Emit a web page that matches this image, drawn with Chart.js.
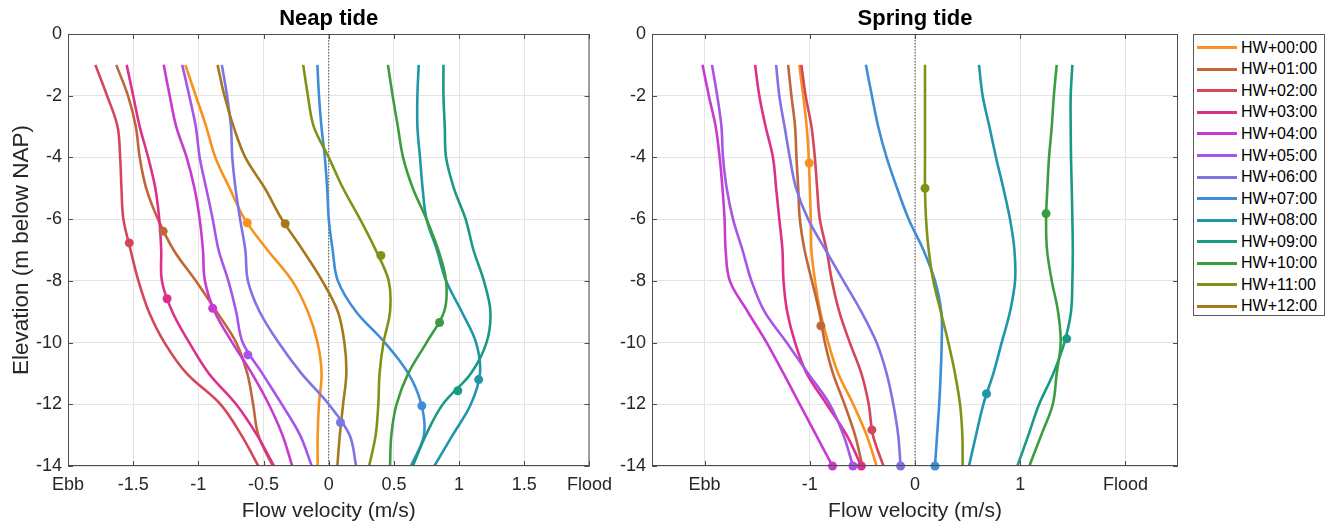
<!DOCTYPE html>
<html>
<head>
<meta charset="utf-8">
<title>Neap and spring tide velocity profiles</title>
<script src="https://cdn.jsdelivr.net/npm/chart.js@4.4.1/dist/chart.umd.min.js"></script>
<style>
  body { margin: 0; background: #fff; width: 1334px; height: 528px; overflow: hidden; position: relative;
         font-family: "Liberation Sans", Arial, Helvetica, sans-serif; }
  canvas { position: absolute; top: 0; }
  #neapChart { left: 0; }
  #springChart { left: 600px; }
  #legend { position: absolute; left: 1193px; top: 34px; width: 132px; height: 282px; box-sizing: border-box;
            border: 1px solid #5a5a5a; background: #fff; padding-top: 2px; }
  .row { display: flex; align-items: center; height: 21.55px; font-size: 16px; color: #000; }
  .swatch { width: 40px; height: 3px; margin-left: 3px; margin-right: 4px; }
</style>
</head>
<body>
<canvas id="neapChart" width="620" height="528"></canvas>
<canvas id="springChart" width="590" height="528"></canvas>
<div id="legend"></div>
<script>
// Profielen: elevatie (m onder NAP) tegen stroomsnelheid (m/s)
const depths = [-1, -2, -3, -4, -5, -6, -7, -8, -9, -10, -11, -12, -13, -14];

const hwLabels = ['HW+00:00', 'HW+01:00', 'HW+02:00', 'HW+03:00', 'HW+04:00', 'HW+05:00', 'HW+06:00',
                  'HW+07:00', 'HW+08:00', 'HW+09:00', 'HW+10:00', 'HW+11:00', 'HW+12:00'];
const hwColors = ['#f7921e', '#c0673a', '#d4475a', '#dc308c', '#c93bd0', '#a655e8', '#7d74e6',
                  '#3f8dd6', '#2096aa', '#189a84', '#3a9e40', '#7f9316', '#a5791c'];

// Doodtij (neap tide)
const neap00 = [-1.10, -1.02, -0.94, -0.87, -0.76, -0.645, -0.47, -0.28, -0.16, -0.086, -0.055, -0.075, -0.085, -0.085];
const neap01 = [-1.63, -1.54, -1.48, -1.45, -1.40, -1.31, -1.19, -1.02, -0.86, -0.71, -0.625, -0.58, -0.54, -0.43];
const neap02 = [-1.79, -1.70, -1.62, -1.60, -1.59, -1.575, -1.52, -1.46, -1.38, -1.26, -1.09, -0.83, -0.67, -0.54];
const neap03 = [-1.55, -1.50, -1.45, -1.385, -1.33, -1.30, -1.285, -1.28, -1.20, -1.07, -0.92, -0.71, -0.55, -0.42];
const neap04 = [-1.266, -1.22, -1.17, -1.09, -1.03, -0.99, -0.965, -0.95, -0.875, -0.74, -0.59, -0.46, -0.355, -0.28];
const neap05 = [-1.124, -1.07, -1.02, -0.99, -0.94, -0.89, -0.845, -0.77, -0.71, -0.66, -0.51, -0.36, -0.22, -0.13];
const neap06 = [-0.82, -0.78, -0.75, -0.74, -0.715, -0.68, -0.64, -0.62, -0.53, -0.385, -0.21, 0.0, 0.16, 0.21];
const neap07 = [-0.087, -0.075, -0.056, -0.03, -0.012, 0.0, 0.03, 0.07, 0.21, 0.43, 0.61, 0.71, 0.73, 0.63];
const neap08 = [0.69, 0.68, 0.68, 0.70, 0.72, 0.75, 0.83, 0.90, 1.02, 1.13, 1.16, 1.09, 0.95, 0.81];
const neap09 = [0.88, 0.88, 0.89, 0.90, 0.96, 1.05, 1.11, 1.19, 1.24, 1.21, 1.09, 0.875, 0.745, 0.645];
const neap10 = [0.454, 0.49, 0.53, 0.57, 0.645, 0.75, 0.84, 0.90, 0.885, 0.75, 0.61, 0.52, 0.48, 0.47];
const neap11 = [-0.196, -0.16, -0.115, 0.0, 0.11, 0.24, 0.36, 0.46, 0.47, 0.42, 0.39, 0.38, 0.36, 0.31];
const neap12 = [-0.853, -0.80, -0.73, -0.64, -0.49, -0.36, -0.20, -0.05, 0.07, 0.12, 0.135, 0.11, 0.085, 0.066];
const neapSeries = [neap00, neap01, neap02, neap03, neap04, neap05, neap06, neap07, neap08, neap09, neap10, neap11, neap12];
const neapMarkVel = [-0.625, -1.27, -1.53, -1.24, -0.89, -0.62, 0.09, 0.714, 1.15, 0.99, 0.85, 0.40, -0.334];
const neapMarkDepth = [-6.12, -6.39, -6.77, -8.58, -8.89, -10.4, -12.59, -12.05, -11.2, -11.56, -9.35, -7.18, -6.15];

// Springtij (spring tide), HW+12 niet zichtbaar
const spring00 = [-1.10, -1.063, -1.03, -1.01, -1.0, -0.99, -0.985, -0.95, -0.90, -0.825, -0.73, -0.587, -0.46, -0.365];
const spring01 = [-1.206, -1.175, -1.14, -1.127, -1.11, -1.095, -1.05, -0.98, -0.91, -0.857, -0.78, -0.67, -0.57, -0.50];
const spring02 = [-1.08, -1.04, -0.984, -0.952, -0.93, -0.905, -0.84, -0.79, -0.72, -0.62, -0.51, -0.44, -0.40, -0.30];
const spring03 = [-1.52, -1.48, -1.42, -1.35, -1.32, -1.29, -1.26, -1.25, -1.215, -1.14, -1.03, -0.84, -0.65, -0.51];
const spring04 = [-2.02, -1.96, -1.895, -1.857, -1.83, -1.81, -1.80, -1.76, -1.59, -1.41, -1.25, -1.095, -0.94, -0.784];
const spring05 = [-1.93, -1.88, -1.84, -1.825, -1.79, -1.73, -1.64, -1.555, -1.43, -1.22, -1.016, -0.81, -0.68, -0.59];
const spring06 = [-1.32, -1.29, -1.24, -1.19, -1.13, -1.016, -0.85, -0.68, -0.51, -0.365, -0.27, -0.206, -0.16, -0.137];
const spring07 = [-0.467, -0.41, -0.35, -0.27, -0.17, -0.06, 0.08, 0.19, 0.25, 0.254, 0.244, 0.23, 0.21, 0.19];
const spring08 = [0.608, 0.643, 0.707, 0.77, 0.84, 0.903, 0.945, 0.951, 0.903, 0.824, 0.745, 0.65, 0.58, 0.513];
const spring09 = [1.496, 1.48, 1.48, 1.483, 1.49, 1.496, 1.5, 1.496, 1.483, 1.42, 1.315, 1.18, 1.078, 0.973];
const spring10 = [1.347, 1.32, 1.30, 1.274, 1.258, 1.246, 1.255, 1.30, 1.36, 1.385, 1.347, 1.31, 1.20, 1.087];
const spring11 = [0.095, 0.095, 0.095, 0.095, 0.095, 0.105, 0.13, 0.174, 0.245, 0.317, 0.38, 0.428, 0.45, 0.453];
const springSeries = [spring00, spring01, spring02, spring03, spring04, spring05, spring06, spring07, spring08, spring09, spring10, spring11, null];
const springMarkVel = [-1.006, -0.895, -0.41, -0.51, -0.784, -0.59, -0.137, 0.19, 0.68, 1.442, 1.246, 0.095, null];
const springMarkDepth = [-4.18, -9.46, -12.83, -14, -14, -14, -14, -14, -11.66, -9.88, -5.82, -5.0, null];

// Ticks
const yTicks = [-14, -12, -10, -8, -6, -4, -2, 0];
const neapXTicks = [-2, -1.5, -1, -0.5, 0, 0.5, 1, 1.5, 2];
const neapXLabels = ['Ebb', '-1.5', '-1', '-0.5', '0', '0.5', '1', '1.5', 'Flood'];
const springXTicks = [-2, -1, 0, 1, 2];
const springXLabels = ['Ebb', '-1', '0', '1', 'Flood'];

Chart.defaults.font.family = '"Liberation Sans", Arial, Helvetica, sans-serif';
Chart.defaults.color = '#262626';

const axisColor = '#4d4d4d';
const gridColor = '#e4e4e4';

// Kader rond de assen met kleine tickjes naar binnen, en de nullijn
const framePlugin = {
    id: 'frame',
    beforeDatasetsDraw(chart) {
        const {ctx, chartArea: a, scales: {x}} = chart;
        const x0 = x.getPixelForValue(0);
        ctx.save();
        ctx.strokeStyle = '#555';
        ctx.lineWidth = 1;
        ctx.setLineDash([1.5, 1.5]);
        ctx.beginPath();
        ctx.moveTo(x0, a.top);
        ctx.lineTo(x0, a.bottom);
        ctx.stroke();
        ctx.restore();
    },
    afterDraw(chart) {
        const {ctx, chartArea: a, scales: {x, y}} = chart;
        ctx.save();
        ctx.strokeStyle = axisColor;
        ctx.lineWidth = 1;
        ctx.strokeRect(a.left + 0.5, a.top + 0.5, a.right - a.left - 1, a.bottom - a.top - 1);
        ctx.beginPath();
        x.ticks.forEach(t => {
            const px = Math.round(x.getPixelForValue(t.value)) + 0.5;
            ctx.moveTo(px, a.bottom); ctx.lineTo(px, a.bottom - 5);
            ctx.moveTo(px, a.top); ctx.lineTo(px, a.top + 5);
        });
        y.ticks.forEach(t => {
            const py = Math.round(y.getPixelForValue(t.value)) + 0.5;
            ctx.moveTo(a.left, py); ctx.lineTo(a.left + 5, py);
            ctx.moveTo(a.right, py); ctx.lineTo(a.right - 5, py);
        });
        ctx.stroke();
        ctx.restore();
    }
};

function maakPaneel(canvasId, titel, series, markVel, markDepth, xTicks, xLabels, xMin, xMax, yWidth, yTitle, padRight) {
    const datasets = [];
    series.forEach((vals, i) => {
        if (!vals) return;
        datasets.push({
            label: hwLabels[i],
            data: vals.map((v, k) => ({x: v, y: depths[k]})),
            showLine: true,
            borderColor: hwColors[i],
            borderWidth: 2.6,
            pointRadius: 0,
            tension: 0.35,
            fill: false,
            order: 50 - i
        });
        datasets.push({
            label: hwLabels[i] + ' punt',
            data: [{x: markVel[i], y: markDepth[i]}],
            showLine: false,
            pointRadius: 4.5,
            pointBackgroundColor: hwColors[i],
            pointBorderWidth: 0,
            clip: false,
            order: 0
        });
    });

    return new Chart(document.getElementById(canvasId), {
        type: 'scatter',
        data: {datasets: datasets},
        options: {
            responsive: false,
            animation: false,
            events: [],
            layout: {padding: {left: 0, right: padRight, top: 0, bottom: 0}},
            plugins: {
                legend: {display: false},
                tooltip: {enabled: false},
                title: {
                    display: true,
                    text: titel,
                    color: '#000',
                    fullSize: false,
                    font: {size: 22, weight: 'bold', lineHeight: 1.2},
                    padding: {top: 6, bottom: 1.6}
                }
            },
            scales: {
                x: {
                    type: 'linear',
                    min: xMin,
                    max: xMax,
                    afterBuildTicks: s => { s.ticks = xTicks.map(v => ({value: v})); },
                    afterFit: s => { s.height = 62; },
                    ticks: {
                        autoSkip: false,
                        maxRotation: 0,
                        padding: 8,
                        font: {size: 18},
                        callback: (v, idx) => xLabels[idx]
                    },
                    grid: {color: gridColor, drawTicks: false},
                    border: {display: false},
                    title: {
                        display: true,
                        text: 'Flow velocity (m/s)',
                        font: {size: 21, lineHeight: 1.2},
                        padding: {top: 0, bottom: 4}
                    }
                },
                y: {
                    type: 'linear',
                    min: -14,
                    max: 0,
                    afterBuildTicks: s => { s.ticks = yTicks.map(v => ({value: v})); },
                    afterFit: s => { s.width = yWidth; },
                    ticks: {
                        padding: 6,
                        font: {size: 18},
                        callback: v => String(v)
                    },
                    grid: {color: gridColor, drawTicks: false},
                    border: {display: false},
                    title: {
                        display: yTitle,
                        text: 'Elevation (m below NAP)',
                        font: {size: 22.5, lineHeight: 1.2},
                        padding: {top: 8, bottom: 0}
                    }
                }
            }
        },
        plugins: [framePlugin]
    });
}

maakPaneel('neapChart', 'Neap tide', neapSeries, neapMarkVel, neapMarkDepth,
           neapXTicks, neapXLabels, -2, 2, 68, true, 27);
maakPaneel('springChart', 'Spring tide', springSeries, springMarkVel, springMarkDepth,
           springXTicks, springXLabels, -2.5, 2.5, 52, false, 12);

// Legenda
const legend = document.getElementById('legend');
hwLabels.forEach((lab, i) => {
    const row = document.createElement('div');
    row.className = 'row';
    row.innerHTML = `<span class="swatch" style="background:${hwColors[i]}"></span><span>${lab}</span>`;
    legend.appendChild(row);
});
</script>
</body>
</html>
